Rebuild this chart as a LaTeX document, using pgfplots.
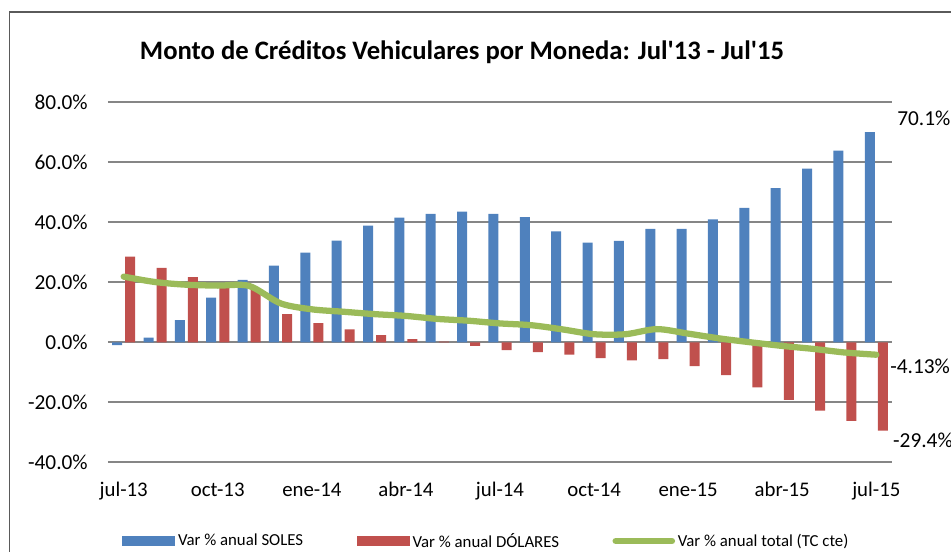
\documentclass[border=0pt]{standalone}
\usepackage{pgfplots}
\pgfplotsset{compat=1.18}
\usepackage{fontspec}
\setmainfont{Carlito}
\definecolor{blueS}{RGB}{79,129,189}
\definecolor{redS}{RGB}{192,80,77}
\definecolor{greenS}{RGB}{155,187,89}
\definecolor{gridC}{RGB}{134,134,134}
\definecolor{frameC}{RGB}{90,90,90}
\begin{document}
\begin{tikzpicture}
\useasboundingbox (0pt,0pt) rectangle (713.25pt,414pt);
\draw[frameC, line width=1pt] (7pt,0pt) -- (7pt,405pt) -- (713.25pt,405pt);
\node[font=\fontsize{20}{24}\selectfont\bfseries, anchor=center] at (346.5pt,375pt) {Monto de Créditos Vehiculares por Moneda: Jul\textquotesingle13 - Jul\textquotesingle15};
\begin{axis}[
  at={(81pt,67.25pt)}, anchor=south west,
  scale only axis, width=588pt, height=270pt,
  xmin=-0.5, xmax=24.5, ymin=-40, ymax=80,
  clip=false,
  axis line style={draw=none},
  major tick length=0pt,
  xtick={0,3,...,24},
  xticklabels={jul-13,oct-13,ene-14,abr-14,jul-14,oct-14,ene-15,abr-15,jul-15},
  ytick={-40,-20,0,20,40,60,80},
  yticklabels={-40.0\%,-20.0\%,0.0\%,20.0\%,40.0\%,60.0\%,80.0\%},
  xticklabel style={font=\fontsize{15.6}{16}\selectfont, inner sep=0pt, anchor=base, yshift=-25.7pt},
  yticklabel style={font=\fontsize{16}{16}\selectfont, inner sep=0pt, anchor=east, xshift=-15pt},
  ymajorgrids, grid style={gridC, line width=1.3pt},
  legend columns=3,
  legend style={draw=none, fill=none, inner sep=0pt, outer sep=0pt, anchor=west,
    at={(0.0179,-0.2186)}, font=\fontsize{12.6}{14}\selectfont,
    nodes={inner sep=2pt},
    /tikz/every even column/.append style={column sep=38pt}},
]
\addplot[ybar, bar width=7.5pt, bar shift=-4.9pt, fill=blueS, draw=none,
  legend image code/.code={\fill[blueS] (0pt,-3.4pt) rectangle (40pt,3.4pt);}]
  coordinates {(0,-0.9) (1,1.6) (2,7.4) (3,14.9) (4,20.8) (5,25.6) (6,29.9) (7,33.9) (8,38.9) (9,41.6) (10,42.8) (11,43.6) (12,42.8) (13,41.7) (14,37.0) (15,33.2) (16,33.8) (17,37.8) (18,37.8) (19,41.0) (20,44.8) (21,51.4) (22,57.9) (23,63.9) (24,70.1)};
\addlegendentry{Var \% anual SOLES}
\addplot[ybar, bar width=7.5pt, bar shift=4.9pt, fill=redS, draw=none,
  legend image code/.code={\fill[redS] (0pt,-3.4pt) rectangle (40pt,3.4pt);}]
  coordinates {(0,28.6) (1,24.8) (2,21.7) (3,19.3) (4,17.7) (5,9.4) (6,6.4) (7,4.3) (8,2.4) (9,1.1) (10,0.2) (11,-1.2) (12,-2.6) (13,-3.3) (14,-4.1) (15,-5.3) (16,-6.0) (17,-5.6) (18,-7.9) (19,-10.9) (20,-15.0) (21,-19.2) (22,-22.8) (23,-26.2) (24,-29.4)};
\addlegendentry{Var \% anual DÓLARES}
\addplot[greenS, line width=4.7pt, smooth, line cap=round, mark=none,
  legend image code/.code={\draw[greenS, line width=5pt] (0pt,0pt) -- (42pt,0pt);}]
  coordinates {(0,21.9) (1,20.1) (2,19.2) (3,18.9) (4,18.8) (5,13.0) (6,11.0) (7,10.2) (8,9.4) (9,8.8) (10,7.8) (11,7.2) (12,6.3) (13,5.7) (14,4.3) (15,2.7) (16,2.7) (17,4.4) (18,2.9) (19,1.3) (20,0.0) (21,-1.2) (22,-2.2) (23,-3.4) (24,-4.13)};
\addlegendentry{Var \% anual total (TC cte)}
\node[anchor=west, inner sep=0pt, font=\fontsize{16}{16}\selectfont] at (axis cs:24.66,74.8) {70.1\%};
\node[anchor=west, inner sep=0pt, font=\fontsize{16}{16}\selectfont] at (axis cs:24.44,-7.9) {-4.13\%};
\node[anchor=west, inner sep=0pt, font=\fontsize{16}{16}\selectfont] at (axis cs:24.53,-32.6) {-29.4\%};
\end{axis}
\end{tikzpicture}
\end{document}
